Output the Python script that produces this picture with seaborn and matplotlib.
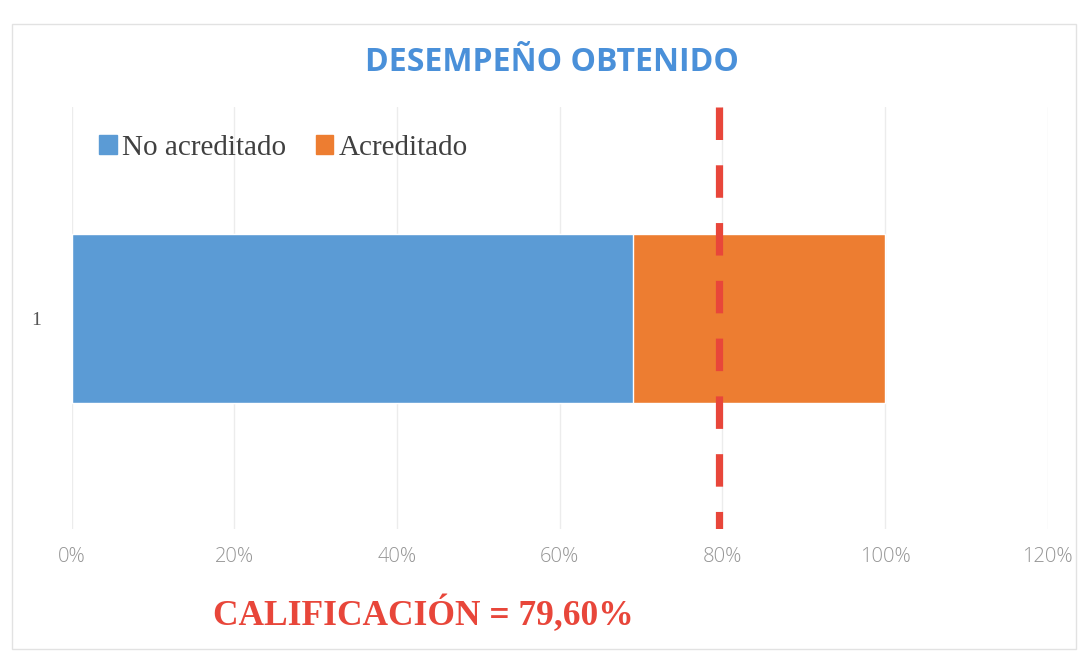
import matplotlib
matplotlib.use("Agg")
import matplotlib.pyplot as plt
import seaborn as sns
import pandas as pd
from matplotlib.patches import Patch, Rectangle

# Data
categories = ["1"]
no_acreditado = [0.69]
acreditado = [0.31]
calificacion = 0.796
x_ticks = [0.0, 0.2, 0.4, 0.6, 0.8, 1.0, 1.2]
x_tick_labels = ["0%", "20%", "40%", "60%", "80%", "100%", "120%"]

BLUE = "#5B9BD5"
ORANGE = "#ED7D31"
RED = "#E8463A"

sns.set_theme(style="white")

df = pd.DataFrame({
    "cat": categories,
    "no": no_acreditado,
    "total": [a + b for a, b in zip(no_acreditado, acreditado)],
})

fig = plt.figure(figsize=(10.88, 6.59), dpi=100)
ax = fig.add_axes([0.066, 0.197, 0.897, 0.640])

# Stacked horizontal bar: cumulative total first, then the first segment on top
sns.barplot(data=df, x="total", y="cat", color=ORANGE, width=0.4,
            saturation=1, ax=ax, orient="h")
sns.barplot(data=df, x="no", y="cat", color=BLUE, width=0.4,
            saturation=1, ax=ax, orient="h")

ax.set_xlim(0, 1.2)
ax.set_ylim(0.5, -0.5)
ax.set_xticks(x_ticks)
ax.set_xticklabels(x_tick_labels, family="Open Sans", fontweight="light",
                   fontsize=14.5, color="#959595")
ax.set_yticks([0])
ax.set_yticklabels(categories, family="Liberation Serif", fontsize=14,
                   color="#555555")
ax.tick_params(axis="x", length=0, pad=13)
ax.tick_params(axis="y", length=0, pad=22)
ax.set_xlabel("")
ax.set_ylabel("")
for s in ax.spines.values():
    s.set_visible(False)
ax.grid(axis="x", color="#ececec", linewidth=1)
ax.set_axisbelow(True)

# Grade marker, dashed from the top of the plot area down
ln, = ax.plot([calificacion, calificacion], [1, 0],
              transform=ax.get_xaxis_transform(), color=RED,
              linewidth=5.2, zorder=5, solid_capstyle="butt")
ln.set_dashes([4.5, 3.5])
ln.set_dash_capstyle("butt")

# Title
fig.text(0.507, 0.905, "DESEMPEÑO OBTENIDO", ha="center", va="center",
         family="Open Sans", fontweight="bold", fontsize=23, color="#4A90D9")

# Legend
handles = [Patch(color=BLUE, label="No acreditado"),
           Patch(color=ORANGE, label="Acreditado")]
fig.legend(handles=handles, loc="center left", bbox_to_anchor=(0.067, 0.776),
           ncol=2, frameon=False, handlelength=0.6, handleheight=0.6,
           handletextpad=0.2, columnspacing=1.0,
           prop={"family": "Liberation Serif", "size": 21},
           labelcolor="#404040")

# Grade text
fig.text(0.389, 0.068, "CALIFICACIÓN = 79,60%", ha="center", va="center",
         family="Liberation Serif", fontweight="bold", fontsize=25.5,
         color=RED)

# Chart area border
fig.patches.append(Rectangle((0.011, 0.015), 0.978, 0.948,
                             transform=fig.transFigure, fill=False,
                             edgecolor="#e2e2e2", linewidth=1))

fig.savefig("out.png", dpi=100)
